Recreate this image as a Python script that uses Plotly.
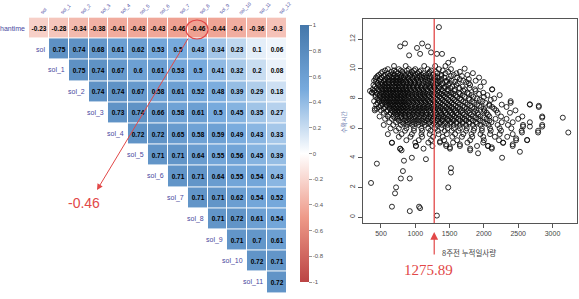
import plotly.graph_objects as go

# ---------------- correlation matrix data ----------------
col_labels = ["sol", "sol_1", "sol_2", "sol_3", "sol_4", "sol_5", "sol_6",
              "sol_7", "sol_8", "sol_9", "sol_10", "sol_11", "sol_12"]
row_labels = ["hantime", "sol", "sol_1", "sol_2", "sol_3", "sol_4", "sol_5",
              "sol_6", "sol_7", "sol_8", "sol_9", "sol_10", "sol_11"]

r_hantime = [-0.23, -0.28, -0.34, -0.38, -0.41, -0.43, -0.43, -0.46, -0.46, -0.44, -0.4, -0.36, -0.3]
r_sol = [0.75, 0.74, 0.68, 0.61, 0.62, 0.53, 0.5, 0.43, 0.34, 0.23, 0.1, 0.06]
r_sol_1 = [0.75, 0.74, 0.67, 0.6, 0.61, 0.53, 0.5, 0.41, 0.32, 0.2, 0.08]
r_sol_2 = [0.74, 0.74, 0.67, 0.58, 0.61, 0.52, 0.48, 0.39, 0.29, 0.18]
r_sol_3 = [0.73, 0.74, 0.66, 0.58, 0.61, 0.5, 0.45, 0.35, 0.27]
r_sol_4 = [0.72, 0.72, 0.65, 0.58, 0.59, 0.49, 0.43, 0.33]
r_sol_5 = [0.71, 0.71, 0.64, 0.55, 0.56, 0.45, 0.39]
r_sol_6 = [0.71, 0.71, 0.64, 0.55, 0.54, 0.43]
r_sol_7 = [0.71, 0.71, 0.62, 0.54, 0.52]
r_sol_8 = [0.71, 0.72, 0.61, 0.54]
r_sol_9 = [0.71, 0.7, 0.61]
r_sol_10 = [0.72, 0.71]
r_sol_11 = [0.72]
corr_rows = [r_hantime, r_sol, r_sol_1, r_sol_2, r_sol_3, r_sol_4, r_sol_5,
             r_sol_6, r_sol_7, r_sol_8, r_sol_9, r_sol_10, r_sol_11]

cbar_ticks = [-1, -0.8, -0.6, -0.4, -0.2, 0, 0.2, 0.4, 0.6, 0.8, 1]
highlight_value = -0.46

# ---------------- scatter data ----------------
core_rows = [
    (10.18, [690, 860, 1130, 1290, 1440]),
    (9.97, [600, 760, 905, 1000, 1180, 1345, 1520]),
    (9.88, [560, 690, 790, 880, 980, 1080, 1230, 1400]),
    (9.79, [520, 650, 720, 810, 950, 1060, 1210, 1300, 1480, 1650]),
    (9.69, [500, 600, 680, 750, 820, 900, 970, 1040, 1120, 1200, 1320, 1440, 1600]),
    (9.58, [470, 560, 640, 700, 780, 850, 930, 1010, 1090, 1160, 1260, 1380, 1560, 1760]),
    (9.50, [450, 540, 620, 680, 740, 800, 860, 920, 990, 1060, 1130, 1210, 1290, 1380, 1520, 1680]),
    (9.41, [430, 510, 590, 660, 720, 770, 830, 890, 960, 1030, 1100, 1170, 1240, 1330, 1420, 1610]),
    (9.30, [420, 490, 560, 620, 680, 730, 780, 840, 900, 960, 1020, 1080, 1140, 1210, 1290, 1380, 1490, 1650]),
    (9.19, [400, 470, 540, 600, 650, 700, 750, 800, 860, 920, 980, 1040, 1110, 1180, 1250, 1330, 1450, 1530, 1700, 1880]),
    (9.11, [430, 500, 550, 610, 670, 720, 770, 820, 870, 930, 990, 1050, 1150, 1230, 1300, 1360, 1460, 1580, 1740]),
    (9.02, [450, 520, 570, 620, 680, 730, 780, 830, 890, 940, 1000, 1060, 1120, 1190, 1260, 1320, 1400, 1500, 1620, 1780]),
    (8.90, [390, 460, 520, 560, 610, 660, 710, 760, 810, 870, 920, 980, 1040, 1100, 1170, 1230, 1310, 1390, 1480, 1600, 1800]),
    (8.79, [410, 480, 540, 590, 640, 690, 740, 790, 850, 900, 960, 1020, 1080, 1140, 1200, 1270, 1350, 1430, 1540, 1690, 1950]),
    (8.70, [440, 500, 560, 610, 660, 710, 760, 810, 860, 910, 970, 1030, 1090, 1150, 1220, 1280, 1340, 1420, 1510, 1640, 1790]),
    (8.61, [380, 460, 520, 570, 620, 670, 720, 770, 820, 870, 930, 990, 1050, 1110, 1170, 1240, 1300, 1380, 1470, 1580, 1720, 1870, 2120]),
    (8.50, [400, 470, 530, 580, 630, 680, 730, 780, 830, 880, 940, 1000, 1060, 1120, 1180, 1250, 1320, 1400, 1480, 1570, 1700, 1880]),
    (8.38, [370, 430, 500, 550, 600, 650, 700, 750, 800, 850, 900, 960, 1020, 1080, 1140, 1210, 1280, 1350, 1430, 1520, 1640, 1760, 1990]),
    (8.30, [450, 520, 570, 620, 670, 720, 770, 820, 870, 920, 990, 1050, 1110, 1170, 1240, 1310, 1380, 1460, 1550, 1650, 1780, 1930]),
    (8.22, [420, 480, 540, 590, 640, 690, 740, 790, 840, 890, 950, 1010, 1070, 1130, 1190, 1260, 1330, 1410, 1500, 1590, 1690, 1820, 2050, 2230]),
    (8.10, [420, 490, 540, 590, 640, 690, 740, 790, 840, 900, 960, 1020, 1080, 1140, 1200, 1270, 1350, 1430, 1520, 1610, 1720, 1850, 2000]),
    (7.99, [450, 510, 560, 610, 660, 710, 760, 810, 860, 920, 980, 1040, 1100, 1160, 1230, 1300, 1380, 1460, 1550, 1650, 1780, 1900, 2150]),
    (7.90, [470, 530, 580, 630, 680, 730, 780, 830, 880, 940, 1000, 1060, 1120, 1180, 1250, 1320, 1400, 1480, 1570, 1670, 1790, 1940, 2100]),
    (7.81, [400, 480, 540, 590, 640, 690, 740, 790, 840, 900, 960, 1020, 1080, 1140, 1200, 1270, 1340, 1420, 1500, 1590, 1700, 1830, 1980, 2390]),
    (7.70, [450, 510, 560, 610, 660, 710, 760, 810, 860, 910, 970, 1030, 1090, 1150, 1220, 1290, 1370, 1450, 1530, 1620, 1730, 1860, 2020]),
    (7.58, [430, 520, 580, 630, 680, 730, 780, 830, 880, 940, 1000, 1060, 1120, 1180, 1250, 1320, 1400, 1480, 1560, 1650, 1760, 1900, 2080, 2260, 2670]),
    (7.50, [500, 590, 650, 700, 750, 800, 850, 900, 960, 1020, 1080, 1140, 1200, 1270, 1340, 1420, 1500, 1590, 1690, 1800, 1930, 2080]),
    (7.42, [470, 560, 620, 670, 720, 770, 820, 870, 930, 990, 1050, 1110, 1170, 1230, 1300, 1370, 1450, 1530, 1620, 1720, 1830, 1960, 2120, 2330, 2800]),
    (7.30, [540, 630, 690, 740, 790, 840, 890, 950, 1010, 1070, 1130, 1190, 1260, 1330, 1400, 1480, 1560, 1650, 1750, 1860, 2000, 2150]),
    (7.19, [410, 500, 600, 660, 710, 760, 810, 860, 920, 980, 1040, 1100, 1160, 1220, 1290, 1360, 1430, 1510, 1590, 1680, 1780, 1890, 2010, 2180, 2460]),
    (7.11, [580, 680, 730, 780, 830, 890, 950, 1010, 1070, 1130, 1200, 1270, 1340, 1410, 1490, 1570, 1660, 1760, 1870, 2000]),
    (7.03, [540, 640, 700, 750, 800, 860, 920, 980, 1040, 1100, 1160, 1230, 1300, 1370, 1440, 1520, 1600, 1690, 1790, 1910, 2040, 2200, 2380]),
    (6.90, [620, 720, 780, 840, 900, 960, 1020, 1090, 1160, 1230, 1300, 1380, 1460, 1540, 1620, 1710, 1810, 1920, 2060]),
    (6.78, [480, 600, 680, 740, 800, 860, 920, 990, 1060, 1130, 1200, 1270, 1340, 1410, 1490, 1570, 1650, 1740, 1840, 1950, 2080, 2250, 2560, 2850]),
    (6.70, [700, 780, 860, 940, 1010, 1090, 1160, 1230, 1300, 1370, 1440, 1520, 1600, 1690, 1780, 1880, 2000]),
    (6.62, [560, 660, 740, 820, 900, 970, 1050, 1120, 1190, 1260, 1330, 1400, 1470, 1550, 1630, 1720, 1810, 1920, 2040, 2170, 2330, 2500]),
    (6.50, [760, 850, 930, 1010, 1090, 1170, 1250, 1320, 1400, 1480, 1560, 1650, 1740, 1840, 1950, 2080]),
    (6.39, [620, 720, 810, 890, 970, 1050, 1130, 1210, 1290, 1360, 1440, 1520, 1600, 1690, 1780, 1880, 1990, 2110, 2260, 2420, 2670]),
    (6.30, [830, 920, 1010, 1100, 1190, 1270, 1350, 1430, 1510, 1600, 1690, 1790, 1900, 2030]),
    (6.21, [540, 680, 790, 880, 960, 1050, 1140, 1230, 1310, 1390, 1470, 1560, 1650, 1740, 1840, 1950, 2070, 2200, 2350, 2570, 2850]),
    (5.98, [640, 760, 870, 980, 1090, 1190, 1290, 1380, 1470, 1560, 1650, 1750, 1860, 1970, 2090, 2230, 2400]),
    (5.82, [720, 850, 980, 1100, 1220, 1330, 1430, 1530, 1630, 1740, 1850, 1970, 2100, 2250, 2550, 2790]),
    (5.59, [600, 800, 950, 1090, 1210, 1340, 1460, 1580, 1700, 1820, 1950, 2090, 2230, 2420]),
    (5.41, [760, 930, 1100, 1260, 1400, 1540, 1680, 1830, 1990, 2160, 2340]),
    (5.18, [870, 1050, 1230, 1420, 1610, 1800, 2000, 2220, 2470, 2630]),
    (5.02, [660, 1000, 1190, 1360, 1550, 1760, 1990, 2280]),
    (4.79, [1010, 1250, 1450, 1650, 1900, 2060, 2420]),
    (4.61, [780, 1120, 1505, 1800, 2115]),
]

extra_x = [1345, 780, 850, 1100, 1185, 1025, 1230, 1315, 1390, 1550, 910, 1070, 1480, 1720,
           1840, 1780, 1930, 2000, 2120, 2390, 2670, 2800, 2850, 2850, 2790, 2670, 2570, 2555,
           2470, 2630, 2280, 2420, 3150, 3230, 370, 410, 440, 340,
           660, 780, 1010, 1360, 1450, 1505, 1650, 2060, 2115, 800, 1800, 1915, 2265, 2525,
           440, 835, 950, 1155, 820, 790, 920, 720, 705, 355, 660, 920, 1055, 1070, 1315,
           1480, 1520, 1520]
extra_y = [12.8, 11.5, 11.7, 11.7, 11.5, 11.4, 11.1, 11.0, 11.0, 10.6, 10.9, 11.0, 10.4, 10.0,
           9.7, 9.3, 9.4, 9.1, 8.6, 7.7, 7.6, 7.5, 6.7, 6.1, 5.7, 6.1, 6.1, 5.7,
           5.3, 5.2, 5.0, 4.9, 6.7, 5.7, 8.4, 7.3, 7.3, 8.5,
           5.0, 4.6, 4.8, 5.1, 4.9, 4.7, 4.9, 4.8, 4.7, 4.5, 4.5, 4.3, 4.0, 4.4,
           3.6, 3.8, 4.0, 3.9, 3.1, 2.6, 2.6, 2.0, 1.6, 2.3, 0.7, 0.4, 0.7, 0.6, 0.1,
           2.0, 3.3, 3.0]

cut_value = 1275.89
x_ticks = [500, 1000, 1500, 2000, 2500, 3000]
y_ticks = [0, 2, 4, 6, 8, 10, 12]

# ---------------- build figure ----------------
W, H = 579, 299
def px(x):
    return x / W
def py(y):
    return 1 - y / H

n = len(col_labels)
z = [[None] * n for _ in range(n)]
txt = [[""] * n for _ in range(n)]
for r, vals in enumerate(corr_rows):
    for k, v in enumerate(vals):
        z[r][r + k] = v
        txt[r][r + k] = f"{v:g}"

colorscale = [[0.0, "#BB4444"], [0.25, "#EE9988"], [0.5, "#FFFFFF"],
              [0.75, "#77AADD"], [1.0, "#4477AA"]]

fig = go.Figure()
fig.add_trace(go.Heatmap(
    z=z, x=list(range(n)), y=list(range(n)), text=txt, texttemplate="%{text}",
    textfont=dict(size=6.5, color="black", family="Liberation Sans", weight="bold"),
    colorscale=colorscale, zmin=-1, zmax=1, xgap=1, ygap=1, hoverinfo="skip",
    xaxis="x", yaxis="y",
    colorbar=dict(
        x=px(290), xanchor="left", y=py(153.5), yanchor="middle",
        len=277, lenmode="pixels", thickness=9, thicknessmode="pixels",
        outlinewidth=0, tickvals=cbar_ticks, ticktext=[f"{t:g}" for t in cbar_ticks],
        ticks="outside", ticklen=3, tickcolor="#999",
        tickfont=dict(size=6, color="#555", family="Liberation Sans"),
    ),
))

xs, ys = [], []
for yv, row in core_rows:
    for xv in row:
        xs.append(xv)
        ys.append(yv)
xs += extra_x
ys += extra_y

fig.add_trace(go.Scatter(
    x=xs, y=ys, mode="markers", xaxis="x2", yaxis="y2", hoverinfo="skip",
    marker=dict(symbol="circle-open", size=5, color="rgba(10,10,10,0.85)",
                line=dict(width=1)),
    showlegend=False,
))

label_col = "#4848A0"
red = "#E24848"
annotations = []
for r, name in enumerate(row_labels):
    annotations.append(dict(
        x=r - 0.5, y=r, xref="x", yref="y", text=name, showarrow=False,
        xanchor="right", yanchor="middle", xshift=-2,
        font=dict(size=7, color=label_col, family="Liberation Sans")))
for c, name in enumerate(col_labels):
    annotations.append(dict(
        x=c, y=py(17.8), xref="x", yref="paper", text=name, showarrow=False,
        xanchor="left", yanchor="bottom", textangle=-45, xshift=-3,
        font=dict(size=5, color=label_col, family="Liberation Sans")))

# highlight arrow and value on heatmap
annotations.append(dict(
    x=px(97), y=py(190), xref="paper", yref="paper", text="", showarrow=True,
    ax=92, ay=-153, arrowhead=2, arrowsize=1.2, arrowwidth=1, arrowcolor=red))
annotations.append(dict(
    x=px(84), y=py(203), xref="paper", yref="paper", text=f"{highlight_value:g}",
    showarrow=False, xanchor="center", yanchor="middle",
    font=dict(size=14, color=red, family="Liberation Sans")))

# scatter annotations
annotations.append(dict(
    x=cut_value, y=py(232), xref="x2", yref="paper", text="", showarrow=True,
    ax=0, ay=24, arrowhead=2, arrowsize=1.3, arrowwidth=1.2, arrowcolor=red))
annotations.append(dict(
    x=cut_value, y=py(270), xref="x2", yref="paper", text=f"{cut_value}",
    showarrow=False, xanchor="center", yanchor="middle", xshift=-6,
    font=dict(size=15, color=red, family="Liberation Serif")))
annotations.append(dict(
    x=px(469), y=py(252), xref="paper", yref="paper", text="8주전 누적일사량",
    showarrow=False, xanchor="center", yanchor="middle",
    font=dict(size=7.5, color="#444", family="Noto Sans CJK KR")))
annotations.append(dict(
    x=px(344), y=py(122), xref="paper", yref="paper", text="수확시간",
    showarrow=False, xanchor="center", yanchor="middle", textangle=-90,
    font=dict(size=6, color="#7080B0", family="Noto Sans CJK KR")))

shapes = [
    dict(type="circle", xref="paper", yref="paper",
         x0=px(186), x1=px(208), y0=py(39), y1=py(20),
         line=dict(color=red, width=1.2)),
    dict(type="line", xref="x2", yref="y2 domain", x0=cut_value, x1=cut_value,
         y0=0, y1=1, line=dict(color=red, width=1.3)),
]

axis_common = dict(showgrid=False, zeroline=False)
fig.update_layout(
    width=W, height=H, margin=dict(l=0, r=0, t=0, b=0),
    paper_bgcolor="white", plot_bgcolor="white", showlegend=False,
    xaxis=dict(domain=[px(29), px(287)], range=[-0.5, n - 0.5], visible=False,
               anchor="y", **axis_common),
    yaxis=dict(domain=[py(293), py(17.4)], range=[n - 0.5, -0.5], visible=False,
               anchor="x", **axis_common),
    xaxis2=dict(domain=[px(363), px(577)], range=[238, 3357], anchor="y2",
                tickvals=x_ticks, ticks="outside", ticklen=4, tickcolor="#555",
                showline=True, mirror=True, linecolor="#555", linewidth=1,
                tickfont=dict(size=7, color="#444", family="Liberation Sans"),
                **axis_common),
    yaxis2=dict(domain=[py(223), py(19)], range=[-0.4, 13.35], anchor="x2",
                tickvals=y_ticks, ticks="outside", ticklen=4, tickcolor="#555",
                tickangle=-90,
                showline=True, mirror=True, linecolor="#555", linewidth=1,
                tickfont=dict(size=7, color="#444", family="Liberation Sans"),
                **axis_common),
    annotations=annotations, shapes=shapes,
)

fig.write_html("out.html")
